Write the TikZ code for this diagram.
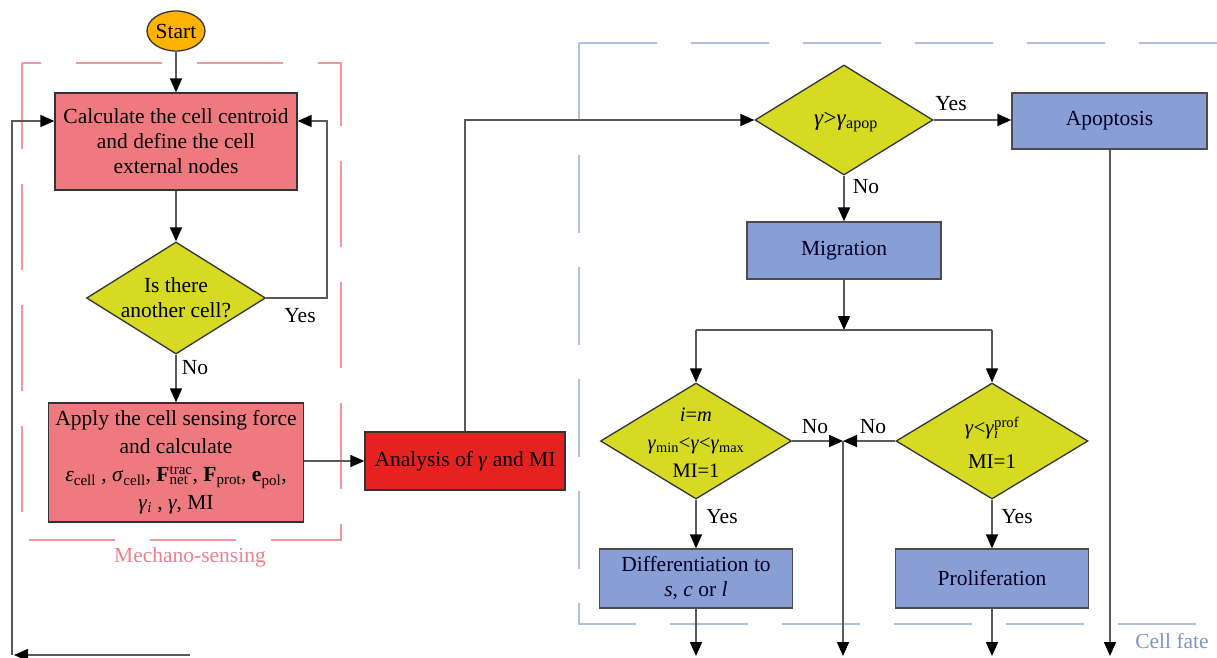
\documentclass[tikz,border=0pt]{standalone}
\usepackage{fontspec}
\setmainfont{Liberation Serif}
\usetikzlibrary{shapes.geometric,arrows.meta}
\definecolor{pinkbox}{RGB}{238,122,128}
\definecolor{redbox}{RGB}{230,34,32}
\definecolor{yelbox}{RGB}{214,218,34}
\definecolor{bluebox}{RGB}{138,158,214}
\definecolor{orangebox}{RGB}{255,178,0}
\definecolor{pinkdash}{RGB}{242,150,160}
\definecolor{bluedash}{RGB}{178,192,228}
\definecolor{pinktext}{RGB}{240,128,140}
\definecolor{bluetext}{RGB}{130,146,196}
\definecolor{linegray}{RGB}{90,90,90}
\newcommand\subs[1]{\textsubscript{#1}}
\newcommand\supsub[2]{\setbox0\hbox{\textsuperscript{#1}}\setbox2\hbox{\textsubscript{#2}}\ifdim\wd0>\wd2 \rlap{\box2}\box0\else\rlap{\box0}\box2\fi}
\newcommand\gam{\textit{γ}}
\begin{document}
\begin{tikzpicture}[x=1pt,y=-1pt,
  font=\fontsize{21.5}{25}\selectfont,
  procbox/.style={draw=black!80, line width=1.3pt, align=center, inner sep=0pt},
  pinkproc/.style={procbox, fill=pinkbox},
  blueproc/.style={procbox, fill=bluebox, draw=black!70, text=black!85!blue},
  decis/.style={diamond, draw=black!80, line width=1.3pt, fill=yelbox, inner sep=0pt, aspect=1},
  dtext/.style={align=center, inner sep=0pt},
  conn/.style={draw=linegray, line width=1.6pt},
  arr/.style={conn, -{Triangle[length=14pt,width=12pt,color=black]}},
  lab/.style={inner sep=0pt, text=black},
  pinkframe/.style={draw=pinkdash, line width=1.5pt, dash pattern=on 86pt off 35pt},
  blueframe/.style={draw=bluedash, line width=1.5pt, dash pattern=on 78pt off 34pt}
]
\useasboundingbox (0,0) rectangle (1217,657);

% frames
\draw[pinkframe] (22,63) rectangle (341,540);
\node[lab, text=pinktext] (mech) at (190,557) {Mechano-sensing};
\begin{scope}
\clip (0,0) rectangle (1217,657);
\draw[blueframe] (579,43) -- (1240,43);
\draw[blueframe] (579,43) -- (579,624) -- (1240,624);
\end{scope}
\node[lab, text=bluetext] (fate) at (1172,641) {Cell fate};

% left column
\node[ellipse, draw=black!80, line width=1.3pt, fill=orangebox, minimum width=58pt, minimum height=40pt, inner sep=0pt] (start) at (176,31) {Start};
\node[pinkproc, minimum width=242pt, minimum height=97pt] (b1) at (176,141.5) {Calculate the cell centroid\\and define the cell\\external nodes};
\node[decis, minimum width=179pt, minimum height=112pt] (d1) at (176,298) {};
\node[dtext] (d1t) at (176,298) {Is there\\another cell?};
\node[pinkproc, minimum width=255pt, minimum height=119pt, font=\fontsize{21.5}{28}\selectfont] (b2) at (176,462.5)
 {Apply the cell sensing force\\and calculate\\
  \textit{ε}\subs{cell} , \textit{σ}\subs{cell}, \textbf{F}\supsub{trac}{net} , \textbf{F}\subs{prot}, \textbf{e}\subs{pol},\\
  \gam\subs{\textit{i}} , \gam, MI};
\node[procbox, fill=redbox, minimum width=200pt, minimum height=58pt] (an) at (465,461) {Analysis of \gam{} and MI};

\draw[arr] (start) -- (b1);
\draw[arr] (b1) -- (d1);
\draw[arr] (d1.south) -- (b2.north);
\node[lab] (no1) at (195,368) {No};
\coordinate (yloop) at (327,298);
\draw[arr] (d1.east) -- (yloop) |- ([yshift=20.5pt]b1.east);
\node[lab] (yes1) at (300,316) {Yes};
\draw[arr] (b2.east |- an.west) -- (an.west);

% return loop
\coordinate (bl) at (190,655);
\coordinate (blc) at (12,655);
\draw[arr] (bl) -- (14,655);
\draw[arr] (blc) |- ([yshift=20.5pt]b1.west);

% right part
\node[decis, minimum width=178pt, minimum height=110pt] (d2) at (844,120) {};
\node[dtext, font=\fontsize{23}{26}\selectfont] (d2t) at (846,122) {\gam>\gam\subs{apop}};
\node[blueproc, minimum width=195pt, minimum height=56pt] (apo) at (1109.5,121) {Apoptosis};
\node[blueproc, minimum width=194pt, minimum height=57pt] (mig) at (844,250.5) {Migration};
\node[decis, minimum width=191pt, minimum height=116pt] (d3) at (696,441) {};
\node[dtext, font=\fontsize{20.5}{28}\selectfont] (d3t) at (696,443) {\textit{i}=\textit{m}\\\gam\subs{min}<\gam<\gam\subs{max}\\MI=1};
\node[decis, minimum width=192pt, minimum height=116pt] (d4) at (992,441) {};
\node[dtext, font=\fontsize{21}{34}\selectfont] (d4t) at (992,443) {\gam<\gam\supsub{prof}{\textit{i}}\\MI=1};
\node[blueproc, minimum width=193pt, minimum height=59pt] (diff) at (696,578.5) {Differentiation to\\\textit{s}, \textit{c} or \textit{l}};
\node[blueproc, minimum width=193pt, minimum height=59pt] (prol) at (992,578.5) {Proliferation};

\coordinate (up) at (465,120);
\draw[arr] (an.north) -- (up) -- (d2.west);
\draw[arr] (d2.east) -- (apo.west |- d2.east);
\node[lab] (yes2) at (951,104) {Yes};
\draw[arr] (d2.south) -- (mig.north);
\node[lab] (no2) at (866,187) {No};

\coordinate (split) at (844,330);
\coordinate (sl) at (696,330);
\coordinate (sr) at (992,330);
\draw[arr] (mig.south) -- (split);
\draw[conn] (sl) -- (sr);
\draw[arr] (sl) -- (d3.north);
\draw[arr] (sr) -- (d4.north);

\coordinate (join) at (843,441);
\draw[arr] (d3.east) -- (join);
\draw[arr] (d4.west) -- (join);
\node[lab] (no3) at (815,427) {No};
\node[lab] (no4) at (873,427) {No};

\draw[arr] (d3.south) -- (diff.north);
\node[lab] (yes3) at (722,517) {Yes};
\draw[arr] (d4.south) -- (prol.north);
\node[lab] (yes4) at (1017,517) {Yes};

\coordinate (e1) at (696,656);
\coordinate (e2) at (843,656);
\coordinate (e3) at (992,656);
\coordinate (e4) at (1110,656);
\draw[arr] (diff.south) -- (e1);
\draw[arr] (join) -- (e2);
\draw[arr] (prol.south) -- (e3);
\draw[arr] (apo.south -| e4) -- (e4);
\end{tikzpicture}
\end{document}
